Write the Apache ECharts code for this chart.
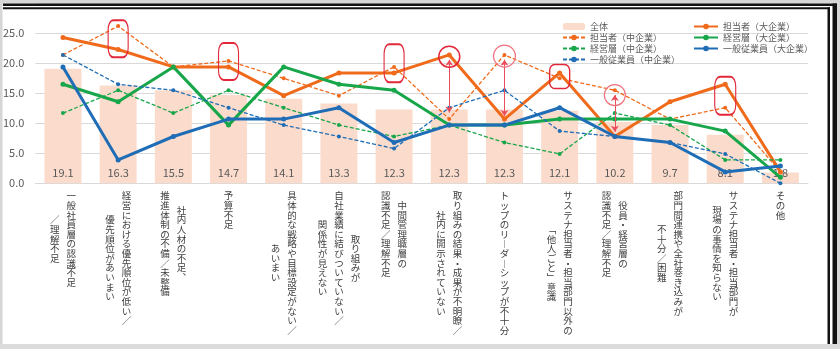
<!DOCTYPE html>
<html>
<head>
<meta charset="utf-8">
<script src="https://cdn.jsdelivr.net/npm/echarts@6/dist/echarts.min.js"></script>
<style>
  html, body { margin: 0; padding: 0; background: #fff; }
  #chart { width: 840px; height: 349px; }
</style>
</head>
<body>
<div id="chart"></div>
<script>
// 縦書きラベル: '\n' で区切った順に右の列から左の列へ
const categories = [
  '一般社員層の認識不足\n／理解不足',
  '経営における優先順位が低い／\n優先順位があいまい',
  '社内人材の不足、\n推進体制の不備／未整備',
  '予算不足',
  '具体的な戦略や目標設定がない／\nあいまい',
  '取り組みが\n自社業績に結びついていない／\n関係性が見えない',
  '中間管理職層の\n認識不足／理解不足',
  '取り組みの結果・成果が不明瞭／\n社内に開示されていない',
  'トップのリーダーシップが不十分',
  'サステナ担当者・担当部門以外の\n「他人ごと」意識',
  '役員・経営層の\n認識不足／理解不足',
  '部門間連携や全社巻き込みが\n不十分／困難',
  'サステナ担当者・担当部門が\n現場の事情を知らない',
  'その他'
]

const zentai = [19.1, 16.3, 15.5, 14.7, 14.1, 13.3, 12.3, 12.3, 12.3, 12.1, 10.2, 9.7, 8.1, 1.8]
const tantoLarge = [24.3, 22.3, 19.4, 19.4, 14.6, 18.4, 18.4, 21.4, 10.7, 18.4, 7.8, 13.6, 16.5, 1.9]
const tantoMid = [21.4, 26.2, 19.4, 20.4, 17.5, 14.6, 19.4, 10.7, 21.4, 17.5, 15.5, 10.7, 12.6, 1.9]
const keieiLarge = [16.5, 13.6, 19.4, 9.7, 19.4, 16.5, 15.5, 9.7, 9.7, 10.7, 10.7, 10.7, 8.7, 1.0]
const keieiMid = [11.7, 15.5, 11.7, 15.5, 12.6, 9.7, 7.8, 9.7, 6.8, 4.9, 11.7, 9.7, 3.9, 3.9]
const ippanLarge = [19.4, 3.9, 7.8, 10.7, 10.7, 12.6, 6.8, 9.7, 9.7, 12.6, 7.8, 6.8, 1.9, 2.9]
const ippanMid = [21.4, 16.5, 15.5, 12.6, 9.7, 7.8, 5.8, 12.6, 15.5, 8.7, 7.8, 6.8, 4.9, 0.0]

const yTicks = [0, 5, 10, 15, 20, 25]

const FONT = '"Noto Sans CJK JP", "Noto Sans", sans-serif'
const ORANGE = '#f06a1c'
const GREEN = '#18a64a'
const BLUE = '#1f6db6'
const RED = '#e2283a'
const PINK = '#f07480'

// 横書き用の文字を縦書き用の字形に置き換える
const vertForm = { 'ー': '︱', '、': '︑', '「': '﹁', '」': '﹂' }

// 半文字単位の行で縦書きを組み、各列を上下中央にそろえる
const verticalLabel = (name) => {
  const cols = name.split('\n').reverse().map(s => Array.from(s).map(ch => vertForm[ch] || ch))
  const maxLen = Math.max(...cols.map(c => c.length))
  const offs = cols.map(c => maxLen - c.length)
  const rows = []
  for (let r = 0; r < maxLen * 2; r++) {
    rows.push(cols.map((c, i) => {
      const k = r - offs[i]
      const ch = (k >= 0 && k % 2 === 0 && k / 2 < c.length) ? c[k / 2] : '　'
      return `{c|${ch}}`
    }).join(''))
  }
  return rows.join('\n')
}

const lineSeries = (name, data, color, dashed) => ({
  name,
  type: 'line',
  data,
  symbol: 'circle',
  symbolSize: dashed ? 4 : 5,
  itemStyle: { color },
  lineStyle: dashed ? { color, width: 1.3, type: [4, 2] } : { color, width: 3 },
  z: 3
})

const chart = echarts.init(document.getElementById('chart'))

const orangeLarge = lineSeries('担当者（大企業）', tantoLarge, ORANGE, false)
// 注目箇所の囲みと差を示す矢印
orangeLarge.markPoint = {
  silent: true,
  animation: false,
  label: { show: false },
  data: [
    { coord: [1, 24.1], symbol: 'roundRect', symbolSize: [20, 37], itemStyle: { color: 'rgba(0,0,0,0)', borderColor: RED, borderWidth: 1.5 } },
    { coord: [3, 20.3], symbol: 'roundRect', symbolSize: [20, 37], itemStyle: { color: 'rgba(0,0,0,0)', borderColor: RED, borderWidth: 1.5 } },
    { coord: [6, 20.0], symbol: 'roundRect', symbolSize: [20, 38], itemStyle: { color: 'rgba(0,0,0,0)', borderColor: RED, borderWidth: 1.5 } },
    { coord: [9, 17.8], symbol: 'roundRect', symbolSize: [20, 24], itemStyle: { color: 'rgba(0,0,0,0)', borderColor: RED, borderWidth: 1.5 } },
    { coord: [12, 14.6], symbol: 'roundRect', symbolSize: [21, 38], itemStyle: { color: 'rgba(0,0,0,0)', borderColor: RED, borderWidth: 1.5 } },
    { coord: [7, 21.1], symbol: 'circle', symbolSize: 21, itemStyle: { color: 'rgba(0,0,0,0)', borderColor: RED, borderWidth: 1.5 } },
    { coord: [8, 21.2], symbol: 'circle', symbolSize: 22, itemStyle: { color: 'rgba(0,0,0,0)', borderColor: PINK, borderWidth: 1.2 } },
    { coord: [10, 14.7], symbol: 'circle', symbolSize: 21, itemStyle: { color: 'rgba(0,0,0,0)', borderColor: PINK, borderWidth: 1.2 } }
  ]
}
orangeLarge.markLine = {
  silent: true,
  animation: false,
  symbol: ['arrow', 'arrow'],
  symbolSize: 6,
  label: { show: false },
  lineStyle: { color: '#ea4c5c', width: 1, type: 'solid' },
  data: [
    [{ coord: [7, 20.6] }, { coord: [7, 11.8] }],
    [{ coord: [8, 20.6] }, { coord: [8, 11.2] }],
    [{ coord: [10, 14.7] }, { coord: [10, 8.6] }]
  ]
}

chart.setOption({
  animation: false,
  backgroundColor: '#fff',
  textStyle: { fontFamily: FONT },
  grid: { left: 35, right: 32, top: 3.3, bottom: 165.7 },
  legend: [
    {
      data: ['全体', '担当者（中企業）', '経営層（中企業）', '一般従業員（中企業）'],
      orient: 'vertical',
      left: 557,
      top: 17,
      itemWidth: 22,
      itemHeight: 7,
      itemGap: 2,
      textStyle: { fontSize: 9, color: '#595959', fontFamily: FONT, lineHeight: 9 }
    },
    {
      data: ['担当者（大企業）', '経営層（大企業）', '一般従業員（大企業）'],
      orient: 'vertical',
      left: 688,
      top: 17,
      itemWidth: 24,
      itemHeight: 7,
      itemGap: 2,
      textStyle: { fontSize: 9, color: '#595959', fontFamily: FONT, lineHeight: 9 }
    }
  ],
  xAxis: {
    type: 'category',
    data: categories,
    axisTick: { show: false },
    axisLine: { lineStyle: { color: '#d9d9d9' } },
    axisLabel: {
      interval: 0,
      margin: 10,
      verticalAlign: 'top',
      formatter: verticalLabel,
      rich: {
        c: { fontSize: 9.5, lineHeight: 4.8, width: 16.5, align: 'center', color: '#404040', fontFamily: FONT }
      }
    }
  },
  yAxis: {
    type: 'value',
    min: 0,
    max: 30,
    interval: 5,
    axisLine: { show: false },
    axisTick: { show: false },
    splitLine: { lineStyle: { color: '#d9d9d9' } },
    axisLabel: {
      color: '#595959',
      fontSize: 11,
      margin: 11,
      formatter: v => (yTicks.includes(v) ? v.toFixed(1) : '')
    }
  },
  series: [
    {
      name: '全体',
      type: 'bar',
      data: zentai,
      barWidth: 37,
      itemStyle: { color: '#fbdccc' },
      label: {
        show: true,
        position: 'insideBottom',
        distance: 5,
        color: '#595959',
        fontSize: 11,
        formatter: p => p.value.toFixed(1)
      },
      z: 2
    },
    orangeLarge,
    lineSeries('担当者（中企業）', tantoMid, ORANGE, true),
    lineSeries('経営層（大企業）', keieiLarge, GREEN, false),
    lineSeries('経営層（中企業）', keieiMid, GREEN, true),
    lineSeries('一般従業員（大企業）', ippanLarge, BLUE, false),
    lineSeries('一般従業員（中企業）', ippanMid, BLUE, true)
  ],
  // スライドの枠線
  graphic: [
    { type: 'rect', z: 100, shape: { x: 0, y: 0, width: 840, height: 3.5 }, style: { fill: '#d6d6d6' } },
    { type: 'rect', z: 100, shape: { x: 3, y: 3.5, width: 834, height: 2.5 }, style: { fill: '#111' } },
    { type: 'rect', z: 100, shape: { x: 3, y: 7.3, width: 827, height: 2 }, style: { fill: '#111' } },
    { type: 'rect', z: 100, shape: { x: 827.5, y: 7.3, width: 2.5, height: 337 }, style: { fill: '#111' } },
    { type: 'rect', z: 100, shape: { x: 832.5, y: 3.5, width: 4.5, height: 341 }, style: { fill: '#111' } },
    { type: 'rect', z: 100, shape: { x: 837, y: 0, width: 3, height: 349 }, style: { fill: '#d6d6d6' } },
    { type: 'rect', z: 100, shape: { x: 0, y: 0, width: 2.5, height: 349 }, style: { fill: '#d6d6d6' } },
    { type: 'rect', z: 100, shape: { x: 0, y: 344, width: 840, height: 5 }, style: { fill: '#dcdcdc' } }
  ]
})
</script>
</body>
</html>
